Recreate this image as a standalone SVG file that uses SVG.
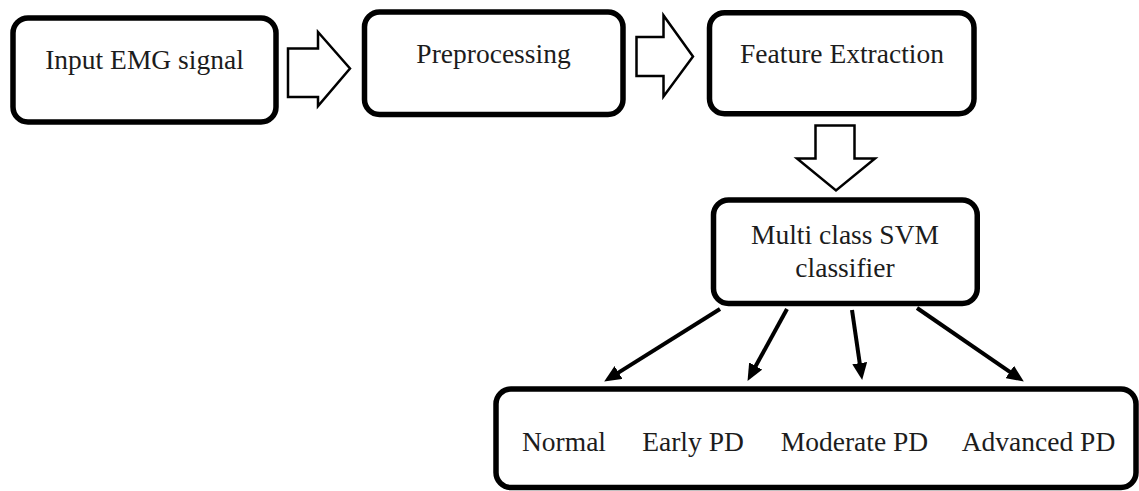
<svg xmlns="http://www.w3.org/2000/svg" width="1139" height="491" viewBox="0 0 1139 491">
  <style>
    .box { fill: #ffffff; stroke: #000000; stroke-width: 5.5; }
    .block { fill: #ffffff; stroke: #000000; stroke-width: 2.5; stroke-linejoin: miter; }
    .label { font-family: "Liberation Serif", "Times New Roman", serif; font-size: 27.5px; fill: #1c1c1c; text-anchor: middle; }
    .link { stroke: #000000; stroke-width: 4; fill: none; }
  </style>
  <defs>
    <marker id="head" markerUnits="userSpaceOnUse" markerWidth="17" markerHeight="15" viewBox="0 0 17 15" refX="4" refY="7.5" orient="auto">
      <path d="M0,0 L17,7.5 L0,15 Z" fill="#000000"/>
    </marker>
  </defs>
  <rect width="1139" height="491" fill="#ffffff"/>

  <!-- pipeline stages -->
  <g id="input">
    <rect class="box" x="13" y="18" width="263" height="104" rx="15"/>
    <text class="label" x="144.5" y="69">Input EMG signal</text>
  </g>
  <g id="preprocessing">
    <rect class="box" x="364.5" y="12" width="258.5" height="102.5" rx="15"/>
    <text class="label" x="493.5" y="63">Preprocessing</text>
  </g>
  <g id="feature-extraction">
    <rect class="box" x="709.5" y="12.75" width="264.5" height="101" rx="15"/>
    <text class="label" x="842" y="63">Feature Extraction</text>
  </g>
  <g id="svm">
    <rect class="box" x="713.5" y="200" width="263.75" height="103.5" rx="15"/>
    <text class="label" x="845" y="244">Multi class SVM</text>
    <text class="label" x="845" y="277">classifier</text>
  </g>
  <g id="classes">
    <rect class="box" x="496" y="389" width="640" height="98.5" rx="15"/>
    <text class="label" x="564" y="451">Normal</text>
    <text class="label" x="693" y="451">Early PD</text>
    <text class="label" x="854.5" y="451">Moderate PD</text>
    <text class="label" x="1038.5" y="451">Advanced PD</text>
  </g>

  <!-- connectors -->
  <g id="connectors">
    <!-- hollow block arrows between stages -->
    <path class="block" d="M288,48.5 L318,48.5 L318,32 L350,68.5 L318,106 L318,97 L288,97 Z"/>
    <path class="block" d="M636.5,37 L663.5,37 L663.5,15.5 L693,56.5 L663.5,96.5 L663.5,76 L636.5,76 Z"/>
    <path class="block" d="M815.5,125.5 L854.5,125.5 L854.5,158.5 L875,158.5 L836,190.5 L797,158.5 L815.5,158.5 Z"/>
    <!-- classifier outputs -->
    <line class="link" x1="720" y1="309" x2="615.2" y2="374.6" marker-end="url(#head)"/>
    <line class="link" x1="787" y1="309" x2="753.8" y2="369.5" marker-end="url(#head)"/>
    <line class="link" x1="852" y1="310" x2="860.3" y2="367.1" marker-end="url(#head)"/>
    <line class="link" x1="917" y1="308" x2="1013.1" y2="374.2" marker-end="url(#head)"/>
  </g>
</svg>
